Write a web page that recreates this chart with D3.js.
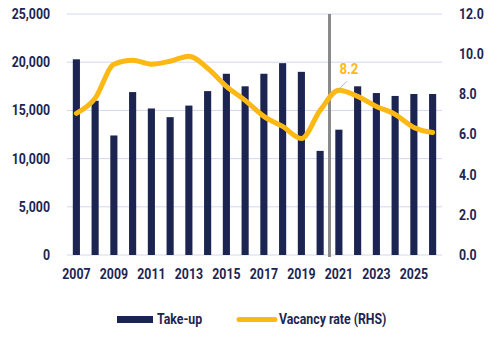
<!DOCTYPE html>
<html>
<head>
<meta charset="utf-8">
<script src="https://cdn.jsdelivr.net/npm/d3@7"></script>
<style>
  html, body { margin: 0; padding: 0; background: #fff; }
  svg text { font-family: Roboto, "DejaVu Sans", sans-serif; font-weight: bold; font-size: 14px; fill: #1c2551; }
</style>
</head>
<body>
<svg id="chart" width="497" height="337"></svg>
<script>
// Office take-up (sq m) and vacancy rate (%), 2007–2026
const years = [2007, 2008, 2009, 2010, 2011, 2012, 2013, 2014, 2015, 2016,
               2017, 2018, 2019, 2020, 2021, 2022, 2023, 2024, 2025, 2026];
const takeUp = [20300, 16000, 12400, 16900, 15200, 14300, 15500, 17000, 18800, 17500,
                18800, 19900, 19000, 10800, 13000, 17500, 16800, 16500, 16700, 16700];
const vacancy = [7.05, 7.8, 9.5, 9.7, 9.5, 9.65, 9.9, 9.3, 8.4, 7.7,
                 6.9, 6.4, 5.8, 7.2, 8.2, 7.9, 7.4, 7.0, 6.35, 6.1];
const leftTicks = [0, 5000, 10000, 15000, 20000, 25000];
const rightTicks = [0, 2, 4, 6, 8, 10, 12];
const yearLabels = [2007, 2009, 2011, 2013, 2015, 2017, 2019, 2021, 2023, 2025];
const dividerYear = 2021;
const labelledYear = 2021;

const navy = "#1c2551";
const gold = "#fdb913";
const squeeze = 0.88; // condensed look for the labels

const svg = d3.select("#chart");
const plot = { left: 67, right: 442, top: 14, bottom: 255 };

const x = d3.scaleBand().domain(years).range([plot.left, plot.right]).paddingInner(0.62).paddingOuter(0.31);
const yL = d3.scaleLinear().domain([0, 25000]).range([plot.bottom, plot.top]);
const yR = d3.scaleLinear().domain([0, 12]).range([plot.bottom, plot.top]);

// narrow a text element horizontally while keeping its anchor point
function condense(sel) {
  sel.each(function () {
    const t = d3.select(this);
    const x0 = +(t.attr("x") || 0);
    t.attr("x", x0 / squeeze).attr("transform", `scale(${squeeze},1)`);
  });
}

// horizontal gridlines
svg.append("g").selectAll("line").data(leftTicks).join("line")
  .attr("x1", plot.left).attr("x2", plot.right)
  .attr("y1", d => yL(d)).attr("y2", d => yL(d))
  .attr("stroke", "#d3d7ef").attr("stroke-width", 1);

// left axis
const axL = svg.append("g").attr("transform", `translate(${plot.left},0)`)
  .call(d3.axisLeft(yL).tickValues(leftTicks).tickFormat(d3.format(",")).tickSize(0).tickPadding(17));
axL.select(".domain").remove();
axL.selectAll("text").attr("font-size", null).style("font-size", "14px").call(condense);

// right axis
const axR = svg.append("g").attr("transform", `translate(${plot.right},0)`)
  .call(d3.axisRight(yR).tickValues(rightTicks).tickFormat(d3.format(".1f")).tickSize(0).tickPadding(17));
axR.select(".domain").remove();
axR.selectAll("text").style("font-size", "14px").call(condense);

// x axis labels
const axX = svg.append("g").attr("transform", `translate(0,${plot.bottom})`)
  .call(d3.axisBottom(x).tickValues(yearLabels).tickSize(0).tickPadding(14));
axX.select(".domain").remove();
axX.selectAll("text").style("font-size", "14px").call(condense);

// bars
svg.append("g").selectAll("rect").data(years).join("rect")
  .attr("x", d => x(d))
  .attr("width", x.bandwidth())
  .attr("y", (d, i) => yL(takeUp[i]))
  .attr("height", (d, i) => yL(0) - yL(takeUp[i]))
  .attr("fill", navy);

// divider between actuals and forecast
const divX = x(dividerYear) - x.step() * x.paddingInner() / 2;
svg.append("line")
  .attr("x1", divX).attr("x2", divX)
  .attr("y1", plot.top).attr("y2", plot.bottom + 2)
  .attr("stroke", "#8a8a8a").attr("stroke-width", 3);

// vacancy line
const line = d3.line()
  .x((d, i) => x(years[i]) + x.bandwidth() / 2)
  .y(d => yR(d))
  .curve(d3.curveMonotoneX);
svg.append("path").datum(vacancy)
  .attr("d", line)
  .attr("fill", "none")
  .attr("stroke", gold)
  .attr("stroke-width", 5)
  .attr("stroke-linejoin", "round")
  .attr("stroke-linecap", "round");

// data label
const li = years.indexOf(labelledYear);
const lx = x(labelledYear) + x.bandwidth() / 2;
const ly = yR(vacancy[li]);
svg.append("line")
  .attr("x1", lx).attr("y1", ly - 1)
  .attr("x2", lx + 8).attr("y2", ly - 9)
  .attr("stroke", "#a9b3d6").attr("stroke-width", 1);
svg.append("text")
  .attr("x", lx + 10).attr("y", ly - 16)
  .attr("text-anchor", "middle")
  .style("font-size", "15px")
  .style("fill", gold)
  .text(d3.format(".1f")(vacancy[li]))
  .call(condense);

// legend
const lg = svg.append("g");
lg.append("rect").attr("x", 117).attr("y", 316).attr("width", 36).attr("height", 7).attr("fill", navy);
lg.append("text").attr("x", 157).attr("y", 324).text("Take-up").call(condense);
lg.append("line").attr("x1", 239).attr("x2", 275).attr("y1", 319.5).attr("y2", 319.5)
  .attr("stroke", gold).attr("stroke-width", 5).attr("stroke-linecap", "round");
lg.append("text").attr("x", 279).attr("y", 324).text("Vacancy rate (RHS)").call(condense);
</script>
</body>
</html>
